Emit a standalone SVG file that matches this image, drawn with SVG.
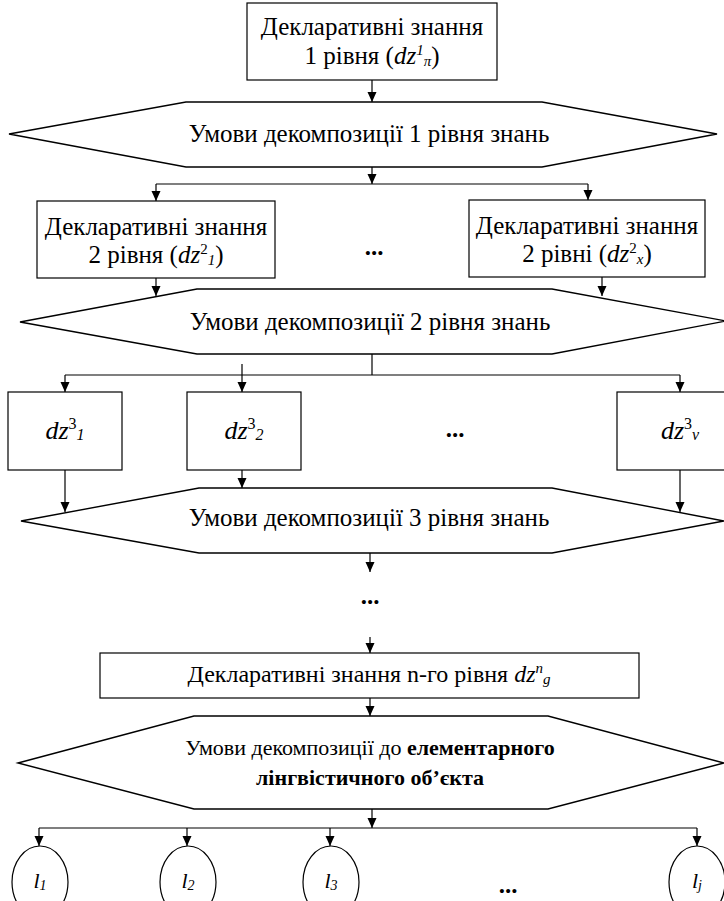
<svg xmlns="http://www.w3.org/2000/svg" width="724" height="901" viewBox="0 0 724 901" font-family="'Liberation Serif', 'Times New Roman', serif">
<style>
text{font-family:'Liberation Serif','Times New Roman',serif;font-size:25px;fill:#000;text-anchor:middle}
.box{fill:#fff;stroke:#000;stroke-width:1.2}
.hex{fill:#fff;stroke:#000;stroke-width:1.4}
.c line,.c path{stroke:#000;stroke-width:1.2;fill:none}
.i{font-style:italic}
.s{font-size:15px}
.b{font-weight:bold}
text.f26{font-size:26px}
text.f24{font-size:24px}
text.f21{font-size:22px}
text.f22{font-size:22px}
.s16{font-size:16px}
.s14{font-size:14px}
</style>
<defs>
<marker id="ah" viewBox="0 0 10 10" refX="10" refY="5" markerWidth="10" markerHeight="10" orient="auto" markerUnits="userSpaceOnUse"><path d="M0,0.5 L10,5 L0,9.5 z" fill="#000"/></marker>
</defs>
<g id="n_top"><rect class="box" x="247" y="3" width="250" height="77"/>
<text x="372" y="35">Декларативні знання</text>
<text x="372" y="64">1 рівня (<tspan class="i">dz</tspan><tspan class="i s" dy="-9">1</tspan><tspan class="i s" dy="11">π</tspan><tspan dy="-2">)</tspan></text></g>
<g id="n_hex1"><polygon class="hex" points="9,134 186,102 542,102 717,134 542,167 186,167"/>
<text x="369" y="142">Умови декомпозиції 1 рівня знань</text></g>
<g id="n_b21"><rect class="box" x="37" y="201" width="238" height="77"/>
<text x="156" y="235">Декларативні знання</text>
<text x="156" y="263">2 рівня (<tspan class="i">dz</tspan><tspan class="s" dy="-9">2</tspan><tspan class="i s" dy="11">1</tspan><tspan dy="-2">)</tspan></text></g>
<g id="n_dots1"><text x="374" y="255" class="b">...</text></g>
<g id="n_b2x"><rect class="box" x="469" y="200" width="236" height="77"/>
<text x="587" y="234">Декларативні знання</text>
<text x="587" y="262">2 рівні (<tspan class="i">dz</tspan><tspan class="s" dy="-9">2</tspan><tspan class="i s" dy="11">x</tspan><tspan dy="-2">)</tspan></text></g>
<g id="n_hex2"><polygon class="hex" points="20,322 197,289 552,289 726,321 552,354 197,354"/>
<text x="370" y="330">Умови декомпозиції 2 рівня знань</text></g>
<g id="n_b31"><rect class="box" x="8" y="392" width="114" height="78"/>
<text x="65" y="439" class="f26"><tspan class="i">dz</tspan><tspan class="s16" dy="-10">3</tspan><tspan class="i s16" dy="11">1</tspan></text></g>
<g id="n_b32"><rect class="box" x="187" y="392" width="114" height="78"/>
<text x="244" y="439" class="f26"><tspan class="i">dz</tspan><tspan class="s16" dy="-10">3</tspan><tspan class="i s16" dy="11">2</tspan></text></g>
<g id="n_dots2"><text x="455" y="437" class="b">...</text></g>
<g id="n_b3v"><rect class="box" x="617" y="392" width="120" height="78"/>
<text x="680" y="439" class="f26"><tspan class="i">dz</tspan><tspan class="s16" dy="-10">3</tspan><tspan class="i s16" dy="11">v</tspan></text></g>
<g id="n_hex3"><polygon class="hex" points="21,521 199,488 552,488 724,521 552,553 199,553"/>
<text x="369" y="526">Умови декомпозиції 3 рівня знань</text></g>
<g id="n_dots3"><text x="370" y="604" class="b">...</text></g>
<g id="n_bn"><rect class="box" x="100" y="653" width="539" height="45"/>
<text x="369" y="682" class="f24">Декларативні знання n-го рівня <tspan class="i">dz</tspan><tspan class="i s" dy="-9">n</tspan><tspan class="i s" dy="11">g</tspan></text></g>
<g id="n_hex4"><polygon class="hex" points="18,763 194,716 548,716 724,763 548,809 194,809"/>
<text x="370" y="755" class="f21">Умови декомпозиції до <tspan class="b">елементарного</tspan></text>
<text x="370" y="785" class="f21 b">лінгвістичного об’єкта</text></g>
<g id="n_l1"><ellipse class="box" cx="40" cy="882" rx="28" ry="36"/><text x="40" y="888" class="f22"><tspan class="i">l</tspan><tspan class="i s14" dy="2">1</tspan></text></g>
<g id="n_l2"><ellipse class="box" cx="188" cy="882" rx="28" ry="36"/><text x="188" y="888" class="f22"><tspan class="i">l</tspan><tspan class="i s14" dy="2">2</tspan></text></g>
<g id="n_l3"><ellipse class="box" cx="331" cy="882" rx="28" ry="36"/><text x="331" y="888" class="f22"><tspan class="i">l</tspan><tspan class="i s14" dy="2">3</tspan></text></g>
<g id="n_dots4"><text x="508" y="893" class="b">...</text></g>
<g id="n_lj"><ellipse class="box" cx="697" cy="882" rx="28" ry="36"/><text x="697" y="888" class="f22"><tspan class="i">l</tspan><tspan class="i s14" dy="2">j</tspan></text></g>
<g id="connectors" class="c">
<line x1="372" y1="80" x2="372" y2="102" marker-end="url(#ah)"/>
<line x1="372" y1="167" x2="372" y2="184" marker-end="url(#ah)"/>
<path d="M156,184 H588"/>
<line x1="156" y1="184" x2="156" y2="201" marker-end="url(#ah)"/>
<line x1="588" y1="184" x2="588" y2="200" marker-end="url(#ah)"/>
<line x1="156" y1="278" x2="156" y2="296" marker-end="url(#ah)"/>
<line x1="602" y1="277" x2="602" y2="296" marker-end="url(#ah)"/>
<line x1="372" y1="354" x2="372" y2="375"/>
<path d="M65,375 H680"/>
<line x1="65" y1="375" x2="65" y2="392" marker-end="url(#ah)"/>
<line x1="242" y1="364" x2="242" y2="392" marker-end="url(#ah)"/>
<line x1="680" y1="375" x2="680" y2="392" marker-end="url(#ah)"/>
<line x1="65" y1="470" x2="65" y2="512" marker-end="url(#ah)"/>
<line x1="242" y1="470" x2="242" y2="488" marker-end="url(#ah)"/>
<line x1="680" y1="470" x2="680" y2="512" marker-end="url(#ah)"/>
<line x1="370" y1="553" x2="370" y2="572" marker-end="url(#ah)"/>
<line x1="370" y1="637" x2="370" y2="653" marker-end="url(#ah)"/>
<line x1="370" y1="698" x2="370" y2="716" marker-end="url(#ah)"/>
<line x1="372" y1="809" x2="372" y2="828" marker-end="url(#ah)"/>
<path d="M39,828 H697"/>
<line x1="39" y1="828" x2="39" y2="846" marker-end="url(#ah)"/>
<line x1="187" y1="828" x2="187" y2="846" marker-end="url(#ah)"/>
<line x1="330" y1="828" x2="330" y2="846" marker-end="url(#ah)"/>
<line x1="697" y1="828" x2="697" y2="846" marker-end="url(#ah)"/>
</g>
</svg>
